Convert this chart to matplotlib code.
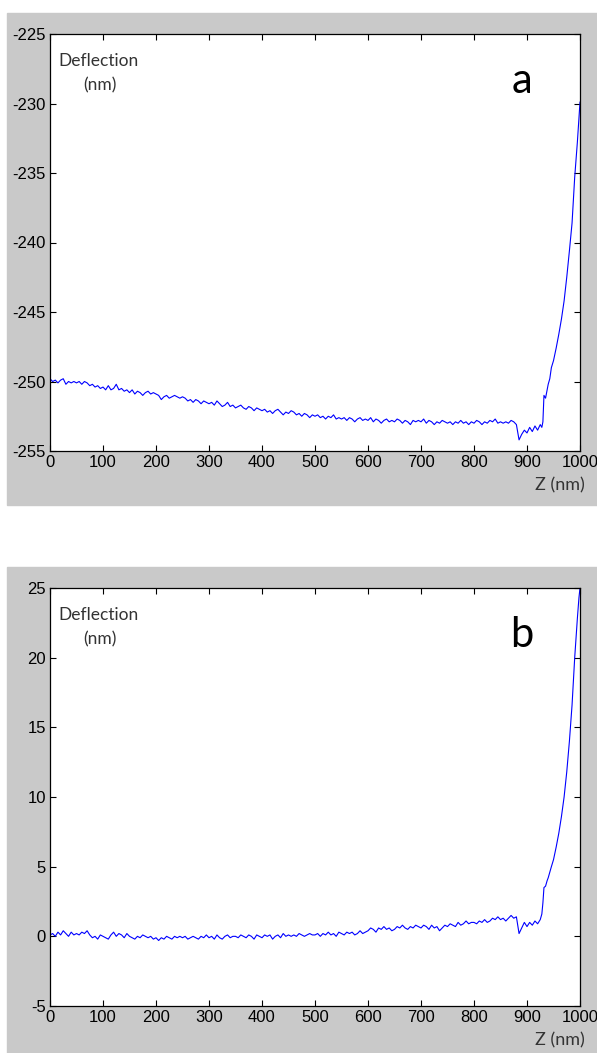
import matplotlib
matplotlib.use("Agg")
import matplotlib.pyplot as plt
from matplotlib.patches import Rectangle

plt.rcParams["axes.unicode_minus"] = False

# Z positions (nm): regular sampling to 925 nm, then the contact region
Z = list(range(0, 930, 5)) + [928, 930, 932, 935, 938, 940, 943, 946, 950, 955,
                              960, 965, 970, 975, 980, 985, 990, 995, 998, 1000]

DEFL_A = [
    -249.8, -250.0, -249.9, -250.1, -249.9, -249.8, -250.2, -250.0, -250.1, -250.0,
    -250.1, -250.0, -250.2, -250.0, -250.1, -250.3, -250.2, -250.4, -250.3, -250.5,
    -250.4, -250.6, -250.3, -250.6, -250.5, -250.2, -250.6, -250.5, -250.7, -250.6,
    -250.8, -250.6, -250.9, -250.7, -250.8, -251.0, -250.8, -250.7, -250.9, -250.8,
    -250.9, -251.0, -251.3, -251.1, -251.0, -251.2, -251.1, -251.0, -251.1, -251.2,
    -251.1, -251.2, -251.4, -251.3, -251.5, -251.3, -251.4, -251.6, -251.4, -251.5,
    -251.6, -251.5, -251.7, -251.4, -251.6, -251.8, -251.7, -251.5, -251.8, -251.7,
    -251.9, -251.8, -251.7, -251.9, -252.0, -251.8, -251.9, -252.1, -251.9, -252.0,
    -252.1, -252.0, -252.2, -252.1, -252.3, -252.1, -252.0, -252.2, -252.4, -252.2,
    -252.3, -252.1, -252.2, -252.4, -252.3, -252.5, -252.3, -252.4, -252.6, -252.4,
    -252.5, -252.4, -252.6, -252.5, -252.7, -252.5, -252.6, -252.4, -252.7, -252.6,
    -252.7, -252.6, -252.8, -252.6, -252.7, -252.9, -252.7, -252.6, -252.8, -252.7,
    -252.8, -252.6, -252.9, -252.7, -252.8, -253.0, -252.8, -252.7, -252.9, -252.8,
    -252.9, -252.7, -252.8, -253.0, -252.8, -252.9, -253.1, -252.8, -252.9, -252.8,
    -252.9, -252.7, -253.0, -252.8, -252.9, -253.1, -252.9, -253.0, -252.8, -252.9,
    -253.0, -252.9, -253.1, -252.9, -253.0, -252.8, -253.0, -252.9, -253.1, -252.9,
    -253.0, -252.8, -252.9, -253.1, -252.9, -253.0, -252.8, -252.9, -252.7, -253.0,
    -252.9, -253.0, -252.9, -253.0, -252.8, -252.9, -253.1, -254.2, -253.8, -253.5,
    -253.7, -253.3, -253.6, -253.2, -253.5, -253.1,
    -253.3, -252.9, -251.0, -251.2, -250.6, -250.2, -249.8, -249.0, -248.5, -247.6,
    -246.6, -245.5, -244.2, -242.5, -240.6, -238.6, -235.3, -232.8, -231.0, -229.9,
]

DEFL_B = [
    0.1, 0.2, 0.0, 0.3, 0.1, 0.4, 0.2, 0.0, 0.3, 0.1,
    0.2, 0.1, 0.3, 0.2, 0.4, 0.1, -0.1, 0.0, -0.2, 0.1,
    0.0, -0.1, -0.2, 0.1, 0.3, 0.0, 0.2, 0.1, -0.1, 0.2,
    0.0, -0.1, -0.2, 0.0, -0.1, 0.1, 0.0, -0.1, 0.0, -0.2,
    -0.1, -0.3, -0.1, -0.2, 0.0, -0.1, -0.2, 0.0, -0.1, 0.0,
    -0.1, 0.0, -0.2, -0.1, 0.0, -0.1, -0.2, 0.0, -0.1, 0.1,
    -0.1, 0.0, -0.2, 0.1, -0.1, -0.2, 0.0, 0.1, -0.1, 0.0,
    0.0, -0.1, 0.1, 0.0, -0.1, 0.1, 0.0, -0.2, 0.1, 0.0,
    -0.1, 0.1, 0.0, 0.1, -0.2, 0.0, 0.1, -0.1, 0.2, 0.0,
    0.1, 0.0, 0.1, 0.0, 0.2, 0.1, 0.0, 0.1, 0.2, 0.1,
    0.1, 0.2, 0.0, 0.2, 0.1, 0.3, 0.1, 0.2, 0.0, 0.3,
    0.2, 0.1, 0.3, 0.2, 0.3, 0.1, 0.2, 0.4, 0.2, 0.3,
    0.4, 0.6, 0.5, 0.3, 0.6, 0.5, 0.7, 0.5, 0.6, 0.4,
    0.5, 0.7, 0.6, 0.8, 0.6, 0.5, 0.7, 0.6, 0.8, 0.7,
    0.6, 0.8, 0.7, 0.5, 0.8, 0.6, 0.7, 0.4, 0.6, 0.8,
    0.7, 0.9, 0.8, 0.7, 1.0, 0.8, 0.9, 1.1, 0.9, 1.0,
    1.0, 0.9, 1.1, 1.0, 1.2, 1.0, 1.1, 1.3, 1.2, 1.4,
    1.2, 1.3, 1.1, 1.3, 1.5, 1.3, 1.4, 0.2, 0.6, 1.0,
    0.7, 1.0, 0.8, 1.1, 0.9, 1.2,
    1.6, 2.4, 3.5, 3.6, 4.0, 4.2, 4.6, 5.0, 5.5, 6.4,
    7.4, 8.6, 10.0, 11.8, 14.0, 16.6, 20.0, 22.8, 24.3, 25.0,
]

PANELS = [
    ("a", DEFL_A, (-255, -225), [-255, -250, -245, -240, -235, -230, -225]),
    ("b", DEFL_B, (-5, 25), [-5, 0, 5, 10, 15, 20, 25]),
]
X_TICKS = [0, 100, 200, 300, 400, 500, 600, 700, 800, 900, 1000]

W, H = 597, 1053
fig = plt.figure(figsize=(W / 100, H / 100), dpi=100)
GRAY = "#c9c9c9"
LABEL_FONT = ["Lato", "DejaVu Sans"]
TICK_FONT = ["Liberation Sans", "DejaVu Sans"]

# grey frames behind each panel (pixel boxes: left, top, right, bottom)
for (l, t, r, b) in [(7, 13, 597, 505), (7, 567, 597, 1053)]:
    fig.patches.append(Rectangle((l / W, 1 - b / H), (r - l) / W, (b - t) / H,
                                 transform=fig.transFigure, color=GRAY, zorder=-10))

axes_px = [(50, 34, 580, 451), (50, 588, 580, 1006)]
for (name, defl, ylim, yticks), (l, t, r, b) in zip(PANELS, axes_px):
    ax = fig.add_axes([l / W, 1 - b / H, (r - l) / W, (b - t) / H])
    ax.plot(Z, defl, color="#0000ff", linewidth=0.8)
    ax.set_xlim(0, 1000)
    ax.set_ylim(*ylim)
    ax.set_xticks(X_TICKS)
    ax.set_yticks(yticks)
    ax.tick_params(direction="in", length=4, width=0.8, top=True, right=True,
                   labelsize=12, pad=3, colors="black")
    for lab in ax.get_xticklabels() + ax.get_yticklabels():
        lab.set_family(TICK_FONT)
    for s in ax.spines.values():
        s.set_linewidth(0.9)
    ax.text(0.015, 0.935, "Deflection", transform=ax.transAxes, fontsize=12.5,
            family=LABEL_FONT, color="#333333", va="center", ha="left")
    ax.text(0.062, 0.877, "(nm)", transform=ax.transAxes, fontsize=12.5,
            family=LABEL_FONT, color="#333333", va="center", ha="left")
    ax.text(0.89, 0.888, name, transform=ax.transAxes, fontsize=30,
            family=LABEL_FONT, color="black", va="center", ha="center")
    fig.text(585 / W, 1 - (b + 34) / H, "Z (nm)", fontsize=13, family=LABEL_FONT,
             color="#333333", ha="right", va="center")

fig.savefig("out.png", dpi=100)
